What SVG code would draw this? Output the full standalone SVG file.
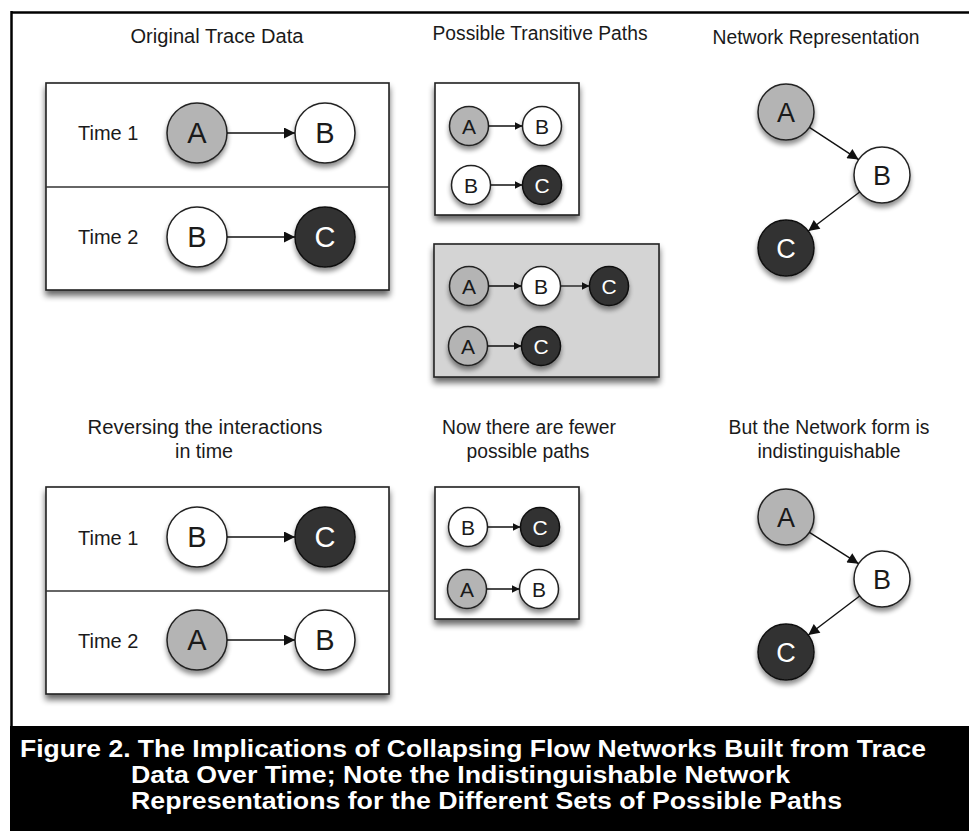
<svg xmlns="http://www.w3.org/2000/svg" width="969" height="831" viewBox="0 0 969 831">
<defs>
<filter id="sh" x="-20%" y="-20%" width="140%" height="150%">
<feGaussianBlur in="SourceAlpha" stdDeviation="3"/>
<feOffset dx="0" dy="5" result="b"/>
<feComponentTransfer><feFuncA type="linear" slope="0.6"/></feComponentTransfer>
<feMerge><feMergeNode/><feMergeNode in="SourceGraphic"/></feMerge>
</filter>
<filter id="csh" x="-40%" y="-40%" width="180%" height="190%">
<feGaussianBlur in="SourceAlpha" stdDeviation="2.5"/>
<feOffset dx="0" dy="4" result="b"/>
<feComponentTransfer><feFuncA type="linear" slope="0.45"/></feComponentTransfer>
<feMerge><feMergeNode/><feMergeNode in="SourceGraphic"/></feMerge>
</filter>
<marker id="ah" viewBox="0 0 10 10" refX="10" refY="5" markerWidth="16" markerHeight="11" markerUnits="userSpaceOnUse" orient="auto">
<path d="M0,0 L10,5 L0,10 Z" fill="#111"/>
</marker>
<marker id="ahn" viewBox="0 0 10 10" refX="10" refY="5" markerWidth="15" markerHeight="11" markerUnits="userSpaceOnUse" orient="auto">
<path d="M0,0 L10,5 L0,10 Z" fill="#111"/>
</marker>
<marker id="ahs" viewBox="0 0 10 10" refX="10" refY="5" markerWidth="10" markerHeight="7.5" markerUnits="userSpaceOnUse" orient="auto">
<path d="M0,0 L10,5 L0,10 Z" fill="#111"/>
</marker>
</defs>
<style>
text{font-family:"Liberation Sans",Arial,sans-serif;fill:#1a1a1a}
.title{font-size:20px;text-anchor:middle}
.time{font-size:20px}
.box{fill:#fff;stroke:#222;stroke-width:1.6;filter:url(#sh)}
.gbox{fill:#d4d4d4;stroke:#222;stroke-width:1.6;filter:url(#sh)}
.div{stroke:#333;stroke-width:1.3}
.nA{fill:#b4b4b4;stroke:#222;stroke-width:1.5;filter:url(#csh)}
.nB{fill:#fff;stroke:#222;stroke-width:1.5;filter:url(#csh)}
.nC{fill:#333;stroke:#111;stroke-width:1.5;filter:url(#csh)}
.lb{font-size:29px;text-anchor:middle}
.lm{font-size:27px;text-anchor:middle}
.ls{font-size:21px;text-anchor:middle}
.wt{fill:#fff}
.edge{stroke:#111;stroke-width:1.4;fill:none;marker-end:url(#ah)}
.edgen{stroke:#111;stroke-width:1.4;fill:none;marker-end:url(#ahn)}
.edges{stroke:#111;stroke-width:1.3;fill:none;marker-end:url(#ahs)}
.cap{font-family:"Liberation Sans",Arial,sans-serif;font-size:23px;font-weight:bold;fill:#fff}
</style>

<rect x="0" y="0" width="969" height="831" fill="#fff"/>
<g id="frame">
<line x1="11" y1="12.5" x2="969" y2="12.5" stroke="#000" stroke-width="2.5"/>
<line x1="11.5" y1="11" x2="11.5" y2="726" stroke="#000" stroke-width="2.5"/>
</g>

<g id="titles">
<text class="title" x="217" y="43" textLength="173" lengthAdjust="spacingAndGlyphs">Original Trace Data</text>
<text class="title" x="540" y="40" textLength="215" lengthAdjust="spacingAndGlyphs">Possible Transitive Paths</text>
<text class="title" x="816" y="44" textLength="207" lengthAdjust="spacingAndGlyphs">Network Representation</text>
<text class="title" x="205" y="434" textLength="235" lengthAdjust="spacingAndGlyphs">Reversing the interactions</text>
<text class="title" x="204" y="458" textLength="58" lengthAdjust="spacingAndGlyphs">in time</text>
<text class="title" x="529" y="434" textLength="174" lengthAdjust="spacingAndGlyphs">Now there are fewer</text>
<text class="title" x="528" y="458" textLength="123" lengthAdjust="spacingAndGlyphs">possible paths</text>
<text class="title" x="829" y="434" textLength="201" lengthAdjust="spacingAndGlyphs">But the Network form is</text>
<text class="title" x="829" y="458" textLength="143" lengthAdjust="spacingAndGlyphs">indistinguishable</text>
</g>

<g id="trace1">
<rect class="box" x="46" y="83" width="343" height="207"/>
<line class="div" x1="46" y1="187" x2="389" y2="187"/>
<text class="time" x="78" y="140">Time 1</text>
<text class="time" x="78" y="244">Time 2</text>
</g>
<g id="t1-A1"><circle class="nA" cx="197" cy="133" r="30"/><text class="lb" x="197" y="143">A</text></g>
<g id="t1-B1"><circle class="nB" cx="325" cy="133" r="30"/><text class="lb" x="325" y="143">B</text></g>
<g id="t1-B2"><circle class="nB" cx="197" cy="237" r="30"/><text class="lb" x="197" y="247">B</text></g>
<g id="t1-C2"><circle class="nC" cx="325" cy="237" r="30"/><text class="lb wt" x="325" y="247">C</text></g>

<g id="paths1"><rect class="box" x="435" y="83" width="144" height="132"/></g>
<g id="p1-A"><circle class="nA" cx="469" cy="126" r="19.5"/><text class="ls" x="469" y="133.5">A</text></g>
<g id="p1-B"><circle class="nB" cx="542" cy="126" r="19.5"/><text class="ls" x="542" y="133.5">B</text></g>
<g id="p1-B2"><circle class="nB" cx="471" cy="185" r="19.5"/><text class="ls" x="471" y="192.5">B</text></g>
<g id="p1-C2"><circle class="nC" cx="542" cy="185" r="19.5"/><text class="ls wt" x="542" y="192.5">C</text></g>

<g id="paths2"><rect class="gbox" x="434" y="244" width="225" height="133"/></g>
<g id="p2-A"><circle class="nA" cx="469" cy="286" r="19.5"/><text class="ls" x="469" y="293.5">A</text></g>
<g id="p2-B"><circle class="nB" cx="541" cy="286" r="19.5"/><text class="ls" x="541" y="293.5">B</text></g>
<g id="p2-C"><circle class="nC" cx="609" cy="286" r="19.5"/><text class="ls wt" x="609" y="293.5">C</text></g>
<g id="p2-A2"><circle class="nA" cx="468" cy="346" r="19.5"/><text class="ls" x="468" y="353.5">A</text></g>
<g id="p2-C2"><circle class="nC" cx="541" cy="346" r="19.5"/><text class="ls wt" x="541" y="353.5">C</text></g>

<g id="n1-A"><circle class="nA" cx="786" cy="112" r="28"/><text class="lm" x="786" y="121.5">A</text></g>
<g id="n1-B"><circle class="nB" cx="882" cy="175" r="28"/><text class="lm" x="882" y="184.5">B</text></g>
<g id="n1-C"><circle class="nC" cx="786" cy="248" r="28"/><text class="lm wt" x="786" y="257.5">C</text></g>

<g id="trace2">
<rect class="box" x="46" y="487" width="343" height="207"/>
<line class="div" x1="46" y1="591" x2="389" y2="591"/>
<text class="time" x="78" y="545">Time 1</text>
<text class="time" x="78" y="648">Time 2</text>
</g>
<g id="t2-B1"><circle class="nB" cx="197" cy="537" r="30"/><text class="lb" x="197" y="547">B</text></g>
<g id="t2-C1"><circle class="nC" cx="325" cy="537" r="30"/><text class="lb wt" x="325" y="547">C</text></g>
<g id="t2-A2"><circle class="nA" cx="197" cy="640" r="30"/><text class="lb" x="197" y="650">A</text></g>
<g id="t2-B2"><circle class="nB" cx="325" cy="640" r="30"/><text class="lb" x="325" y="650">B</text></g>

<g id="paths3"><rect class="box" x="435" y="487" width="144" height="132"/></g>
<g id="p3-B"><circle class="nB" cx="468" cy="527" r="19.5"/><text class="ls" x="468" y="534.5">B</text></g>
<g id="p3-C"><circle class="nC" cx="540" cy="527" r="19.5"/><text class="ls wt" x="540" y="534.5">C</text></g>
<g id="p3-A2"><circle class="nA" cx="467" cy="589" r="19.5"/><text class="ls" x="467" y="596.5">A</text></g>
<g id="p3-B2"><circle class="nB" cx="539" cy="589" r="19.5"/><text class="ls" x="539" y="596.5">B</text></g>

<g id="n2-A"><circle class="nA" cx="786" cy="517" r="28"/><text class="lm" x="786" y="526.5">A</text></g>
<g id="n2-B"><circle class="nB" cx="882" cy="579" r="28"/><text class="lm" x="882" y="588.5">B</text></g>
<g id="n2-C"><circle class="nC" cx="786" cy="652" r="28"/><text class="lm wt" x="786" y="661.5">C</text></g>

<g id="connectors">
<line class="edge" x1="227" y1="133" x2="295" y2="133"/>
<line class="edge" x1="227" y1="237" x2="295" y2="237"/>
<line class="edges" x1="488.5" y1="126" x2="522.5" y2="126"/>
<line class="edges" x1="490.5" y1="185" x2="522.5" y2="185"/>
<line class="edges" x1="488.5" y1="286" x2="521.5" y2="286"/>
<line class="edges" x1="560.5" y1="286" x2="589.5" y2="286"/>
<line class="edges" x1="487.5" y1="346" x2="521.5" y2="346"/>
<line class="edgen" x1="809.4" y1="127.4" x2="858.6" y2="159.6"/>
<line class="edgen" x1="859.7" y1="192" x2="808.3" y2="231"/>
<line class="edge" x1="227" y1="537" x2="295" y2="537"/>
<line class="edge" x1="227" y1="640" x2="295" y2="640"/>
<line class="edges" x1="487.5" y1="527" x2="520.5" y2="527"/>
<line class="edges" x1="486.5" y1="589" x2="519.5" y2="589"/>
<line class="edgen" x1="809.4" y1="532.3" x2="858.6" y2="563.7"/>
<line class="edgen" x1="859.7" y1="596" x2="808.3" y2="635"/>
</g>

<g id="caption">
<rect x="10" y="726" width="959" height="105" fill="#000"/>
<text class="cap" x="20" y="757" textLength="906" lengthAdjust="spacingAndGlyphs">Figure 2. The Implications of Collapsing Flow Networks Built from Trace</text>
<text class="cap" x="131" y="783" textLength="659" lengthAdjust="spacingAndGlyphs">Data Over Time; Note the Indistinguishable Network</text>
<text class="cap" x="131" y="809" textLength="711" lengthAdjust="spacingAndGlyphs">Representations for the Different Sets of Possible Paths</text>
</g>
</svg>
